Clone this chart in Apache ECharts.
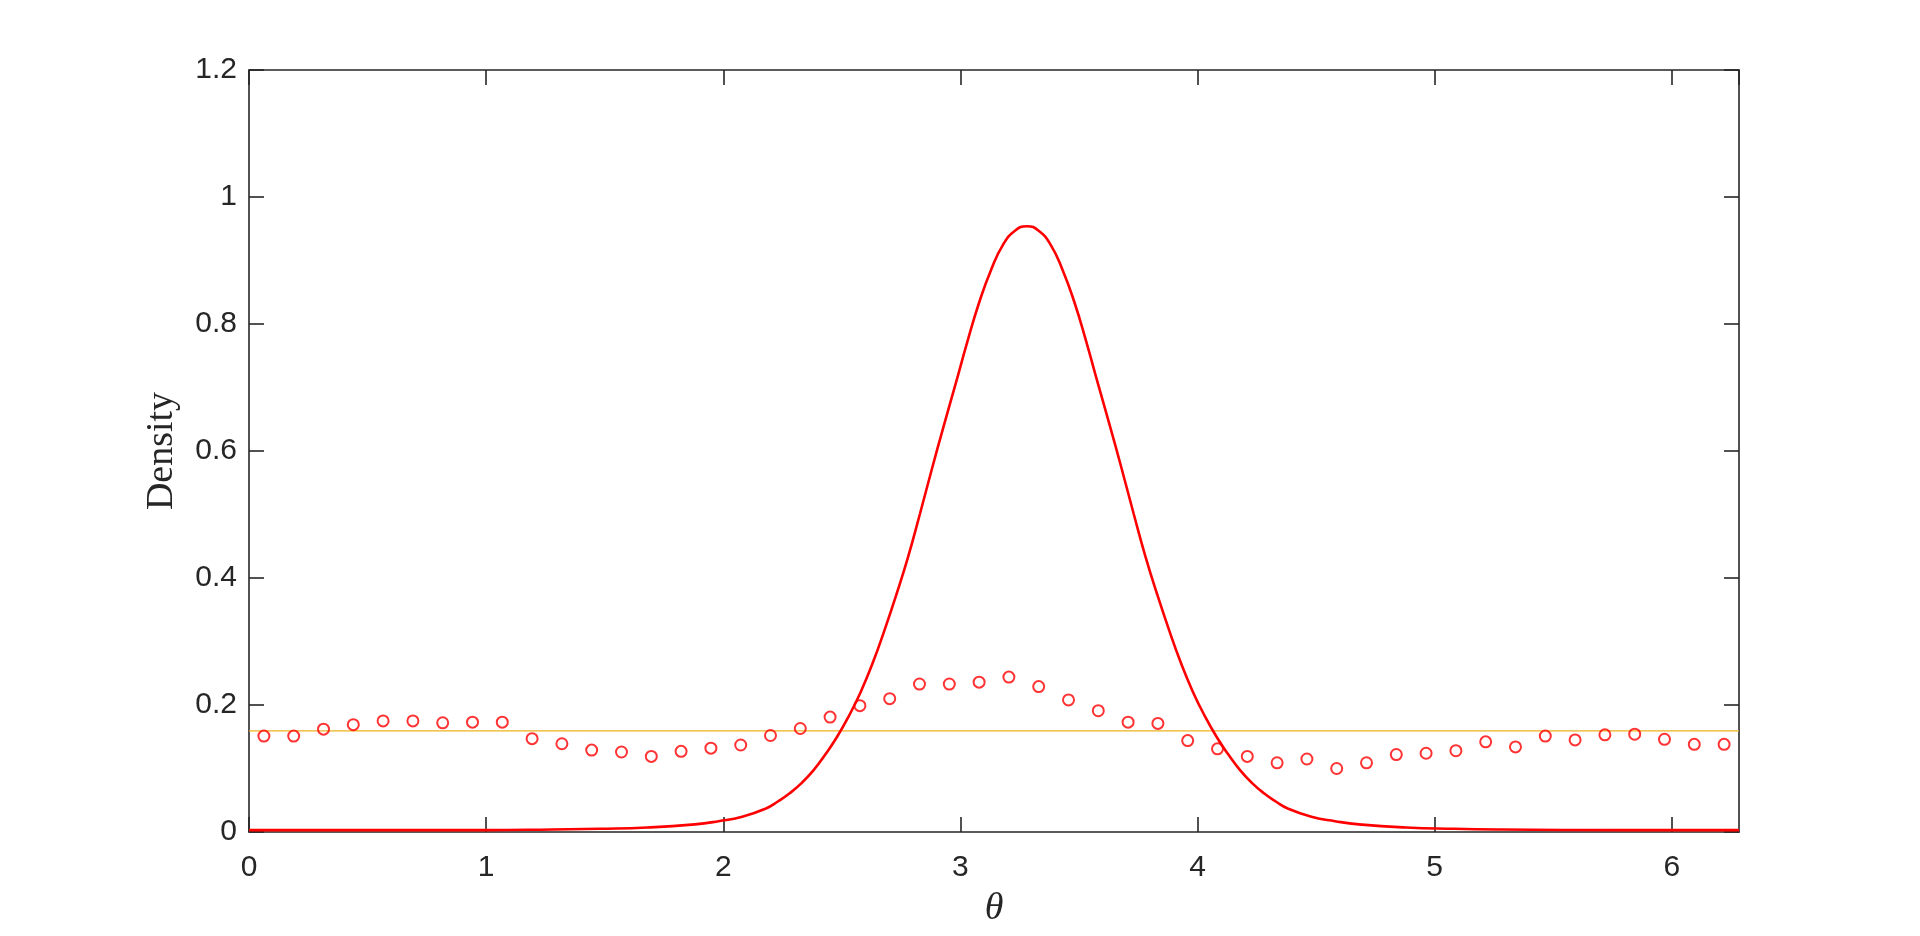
<!DOCTYPE html>
<html>
<head>
<meta charset="utf-8">
<title>Density</title>
<script src="https://cdn.jsdelivr.net/npm/echarts@6/dist/echarts.min.js"></script>
<style>
  html, body { margin: 0; padding: 0; background: #fff; }
  #chart { width: 1920px; height: 936px; }
</style>
</head>
<body>
<div id="chart"></div>
<script>
// bin centres of the histogram points
var binTheta = [0.0628, 0.1885, 0.3142, 0.4398, 0.5655, 0.6912, 0.8168, 0.9425, 1.0681, 1.1938,
  1.3195, 1.4451, 1.5708, 1.6965, 1.8221, 1.9478, 2.0735, 2.1991, 2.3248, 2.4504,
  2.5761, 2.7018, 2.8274, 2.9531, 3.0788, 3.2044, 3.3301, 3.4558, 3.5814, 3.7071,
  3.8327, 3.9584, 4.0841, 4.2097, 4.3354, 4.4611, 4.5867, 4.7124, 4.8381, 4.9637,
  5.0894, 5.2150, 5.3407, 5.4664, 5.5920, 5.7177, 5.8434, 5.9690, 6.0947, 6.2204];
var binDensity = [0.151, 0.151, 0.162, 0.169, 0.175, 0.175, 0.172, 0.173, 0.173, 0.147,
  0.139, 0.129, 0.126, 0.119, 0.127, 0.132, 0.137, 0.152, 0.163, 0.181,
  0.199, 0.210, 0.233, 0.233, 0.236, 0.244, 0.229, 0.208, 0.191, 0.173,
  0.171, 0.144, 0.131, 0.119, 0.109, 0.115, 0.100, 0.109, 0.122, 0.124,
  0.128, 0.142, 0.134, 0.151, 0.145, 0.153, 0.154, 0.146, 0.138, 0.138];

// fitted density curve
var curveTheta = [0, 0.5, 1.0, 1.28, 1.48, 1.68, 1.88, 1.98, 2.08, 2.18, 2.23, 2.28, 2.33, 2.38,
  2.43, 2.48, 2.53, 2.58, 2.63, 2.68, 2.73, 2.78, 2.83, 2.88, 2.93, 2.98, 3.03, 3.08, 3.13,
  3.18, 3.23, 3.28, 3.33, 3.38, 3.43, 3.48, 3.53, 3.58, 3.63, 3.68, 3.73, 3.78, 3.83,
  3.88, 3.93, 3.98, 4.03, 4.08, 4.13, 4.18, 4.23, 4.28, 4.33, 4.38, 4.48, 4.58, 4.68,
  4.88, 5.08, 5.28, 5.8, 6.2832];
var curveDensity = [0.003, 0.003, 0.003, 0.004, 0.005, 0.007, 0.012, 0.017, 0.024, 0.037, 0.048, 0.061, 0.077, 0.097,
  0.122, 0.150, 0.183, 0.221, 0.266, 0.318, 0.374, 0.434, 0.502, 0.572, 0.640, 0.706, 0.773, 0.835, 0.886,
  0.925, 0.947, 0.954, 0.947, 0.925, 0.886, 0.835, 0.773, 0.706, 0.640, 0.572, 0.502, 0.434, 0.374,
  0.318, 0.266, 0.221, 0.183, 0.150, 0.122, 0.097, 0.077, 0.061, 0.048, 0.037, 0.024, 0.017, 0.012,
  0.007, 0.005, 0.004, 0.003, 0.003];

// uniform reference level
var uniformTheta = [0, 6.2832];
var uniformDensity = [0.159155, 0.159155];

var yTicks = [0, 0.2, 0.4, 0.6, 0.8, 1, 1.2];

var axisColor = '#262626';
var tickFont = { fontFamily: 'Liberation Sans, Arial, sans-serif', fontSize: 30, color: axisColor };
var lineCfg = { color: axisColor, width: 1.6 };

function pairs(xs, ys) {
  return xs.map(function (x, i) { return [x, ys[i]]; });
}

var chart = echarts.init(document.getElementById('chart'));
var option = {
  animation: false,
  backgroundColor: '#ffffff',
  grid: { left: 249, top: 70, width: 1490, height: 762 },
  xAxis: [{
    type: 'value', min: 0, max: 6.2832, interval: 1,
    name: 'θ', nameLocation: 'middle', nameGap: 58,
    nameTextStyle: { fontFamily: 'Liberation Serif, DejaVu Serif, serif', fontStyle: 'italic', fontSize: 38, color: axisColor },
    axisLine: { show: true, onZero: false, lineStyle: lineCfg },
    axisTick: { show: true, inside: true, length: 15, lineStyle: lineCfg },
    axisLabel: Object.assign({ margin: 21, showMaxLabel: false }, tickFont),
    splitLine: { show: false }
  }, {
    type: 'value', position: 'top', min: 0, max: 6.2832, interval: 1,
    axisLine: { show: true, onZero: false, lineStyle: lineCfg },
    axisTick: { show: true, inside: true, length: 15, lineStyle: lineCfg },
    axisLabel: { show: false },
    splitLine: { show: false }
  }],
  yAxis: [{
    type: 'value', min: yTicks[0], max: yTicks[yTicks.length - 1], interval: 0.2,
    name: 'Density', nameLocation: 'middle', nameGap: 68,
    nameTextStyle: { fontFamily: 'Liberation Serif, DejaVu Serif, serif', fontSize: 38, color: axisColor },
    axisLine: { show: true, onZero: false, lineStyle: lineCfg },
    axisTick: { show: true, inside: true, length: 15, lineStyle: lineCfg },
    axisLabel: Object.assign({ margin: 12 }, tickFont),
    splitLine: { show: false }
  }, {
    type: 'value', position: 'right', min: 0, max: 1.2, interval: 0.2,
    axisLine: { show: true, onZero: false, lineStyle: lineCfg },
    axisTick: { show: true, inside: true, length: 15, lineStyle: lineCfg },
    axisLabel: { show: false },
    splitLine: { show: false }
  }],
  series: [{
    type: 'line',
    data: pairs(uniformTheta, uniformDensity),
    symbol: 'none',
    lineStyle: { color: '#EDB120', width: 1.2 },
    z: 1
  }, {
    type: 'scatter',
    data: pairs(binTheta, binDensity),
    symbol: 'circle',
    symbolSize: 11,
    itemStyle: { color: 'rgba(0,0,0,0)', borderColor: '#FF0000', borderWidth: 2 },
    z: 2
  }, {
    type: 'line',
    data: pairs(curveTheta, curveDensity),
    symbol: 'none',
    smooth: 0.5,
    lineStyle: { color: '#FF0000', width: 2.6 },
    z: 3
  }]
};
chart.setOption(option);
</script>
</body>
</html>
